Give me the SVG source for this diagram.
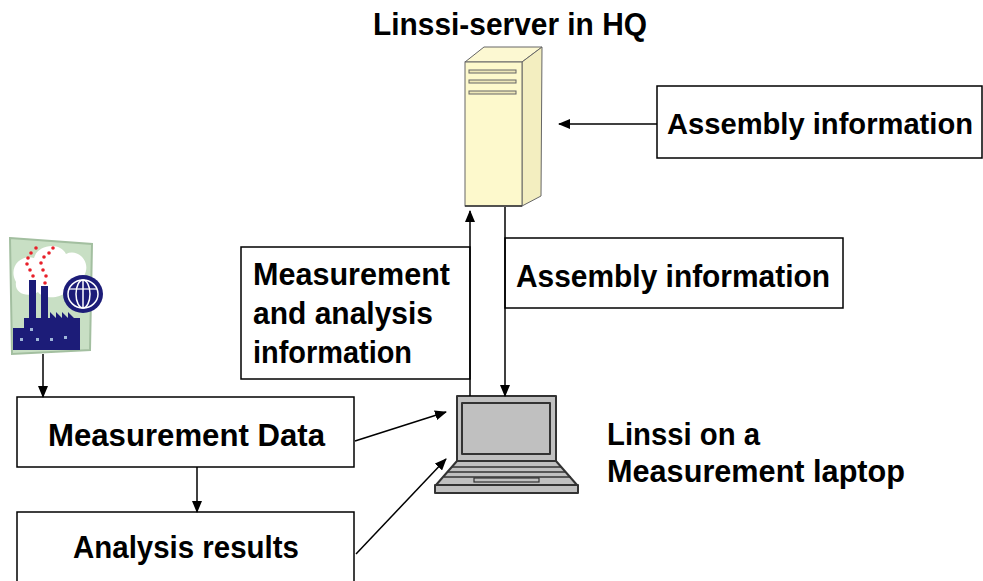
<svg xmlns="http://www.w3.org/2000/svg" width="983" height="581" viewBox="0 0 983 581">
  <style>
    .lbl { font-family: "Liberation Sans", Arial, sans-serif; font-weight: bold; font-size: 31px; fill: #000; }
    .box { fill: #fff; stroke: #000; stroke-width: 1.5; }
    .conn { stroke: #000; stroke-width: 1.5; fill: none; marker-end: url(#arrow); }
    .lap { fill: #c0c0c0; stroke: #333; stroke-width: 2; stroke-linejoin: round; }
    .navy { fill: #1c1c78; }
    .smoke { fill: #e8202a; }
  </style>
  <defs>
    <marker id="arrow" markerUnits="userSpaceOnUse" markerWidth="12" markerHeight="10" refX="11" refY="5" orient="auto">
      <path d="M0,0 L12,5 L0,10 z" fill="#000"/>
    </marker>
  </defs>

  <rect width="983" height="581" fill="#fff"/>

  <!-- server tower -->
  <g id="server">
    <text class="lbl" x="373" y="35" textLength="274" lengthAdjust="spacingAndGlyphs">Linssi-server in HQ</text>
    <polygon points="465,62 484,47 542,47 522,62" fill="#fcf8d2" stroke="#666" stroke-width="1"/>
    <polygon points="522,62 542,47 541,196 522,206" fill="#f3eec0" stroke="#666" stroke-width="1"/>
    <rect x="465" y="62" width="57" height="144" fill="#fdf9cc" stroke="#666" stroke-width="1"/>
    <line x1="465" y1="206" x2="522" y2="206" stroke="#333" stroke-width="1.5"/>
    <rect x="469" y="70" width="47" height="3" fill="#eee8b8" stroke="#666" stroke-width="1"/>
    <rect x="469" y="80" width="47" height="3" fill="#eee8b8" stroke="#666" stroke-width="1"/>
    <rect x="469" y="91" width="47" height="3" fill="#eee8b8" stroke="#666" stroke-width="1"/>
  </g>

  <!-- assembly information into the server -->
  <g id="assembly-hq">
    <rect class="box" x="657" y="86" width="325" height="72"/>
    <text class="lbl" x="667" y="134" style="font-size:29px" textLength="306" lengthAdjust="spacingAndGlyphs">Assembly information</text>
  </g>

  <!-- upload label -->
  <g id="upload-info">
    <rect class="box" x="241" y="247" width="229" height="132"/>
    <text class="lbl" x="253" y="285" textLength="197" lengthAdjust="spacingAndGlyphs">Measurement</text>
    <text class="lbl" x="253" y="324" textLength="180" lengthAdjust="spacingAndGlyphs">and analysis</text>
    <text class="lbl" x="253" y="363" textLength="159" lengthAdjust="spacingAndGlyphs">information</text>
  </g>

  <!-- download label -->
  <g id="assembly-laptop">
    <rect class="box" x="505" y="238" width="338" height="70"/>
    <text class="lbl" x="516" y="287" textLength="314" lengthAdjust="spacingAndGlyphs">Assembly information</text>
  </g>

  <!-- laptop -->
  <g id="laptop">
    <rect class="lap" x="457" y="396" width="99" height="65"/>
    <rect class="lap" x="462" y="403" width="88" height="51"/>
    <polygon class="lap" points="457,461 556,461 577,485 436,485"/>
    <line x1="452" y1="467" x2="561" y2="467" stroke="#333" stroke-width="1.5"/>
    <line x1="448" y1="472" x2="566" y2="472" stroke="#333" stroke-width="1.5"/>
    <line x1="444" y1="477" x2="571" y2="477" stroke="#333" stroke-width="1.5"/>
    <rect x="474" y="478" width="65" height="4" fill="#c0c0c0" stroke="#333" stroke-width="1.2"/>
    <rect class="lap" x="435" y="485" width="143" height="8"/>
    <text class="lbl" x="607" y="445" textLength="153" lengthAdjust="spacingAndGlyphs">Linssi on a</text>
    <text class="lbl" x="607" y="482" textLength="298" lengthAdjust="spacingAndGlyphs">Measurement laptop</text>
  </g>

  <!-- factory / site icon -->
  <g id="factory">
    <polygon points="10,238 92,244 90,350 12,354" fill="#c8dfc4" stroke="#a3bfa0" stroke-width="2"/>
    <path d="M16,282 C8,268 20,254 34,258 C38,244 60,242 66,254 C78,248 92,262 84,276 C90,288 78,298 66,292 C58,300 42,298 38,292 C28,298 14,294 16,282 z" fill="#fff"/>
    <rect class="navy" x="29" y="280" width="7" height="40"/>
    <rect class="navy" x="41" y="286" width="7" height="34"/>
    <polygon class="navy" points="13,328 24,328 24,318 50,318 50,312 56,318 56,312 62,318 62,312 68,318 68,312 74,318 80,318 80,350 13,350"/>
    <g fill="#9fb6d8">
      <rect x="20" y="338" width="3" height="3"/>
      <rect x="36" y="338" width="3" height="3"/>
      <rect x="50" y="338" width="3" height="3"/>
      <rect x="64" y="336" width="3" height="3"/>
      <rect x="30" y="328" width="3" height="3"/>
    </g>
    <g class="smoke">
      <circle cx="33" cy="276" r="1.8"/>
      <circle cx="30" cy="270" r="1.8"/>
      <circle cx="27" cy="264" r="1.8"/>
      <circle cx="28" cy="258" r="1.8"/>
      <circle cx="31" cy="253" r="1.8"/>
      <circle cx="36" cy="248" r="1.8"/>
      <circle cx="45" cy="283" r="1.8"/>
      <circle cx="46" cy="276" r="1.8"/>
      <circle cx="43" cy="270" r="1.8"/>
      <circle cx="41" cy="263" r="1.8"/>
      <circle cx="44" cy="257" r="1.8"/>
      <circle cx="49" cy="253" r="1.8"/>
      <circle cx="53" cy="248" r="1.8"/>
    </g>
    <g id="globe">
      <ellipse class="navy" cx="83" cy="294" rx="20" ry="19"/>
      <ellipse cx="83" cy="294" rx="15" ry="14" fill="none" stroke="#fff" stroke-width="1.5"/>
      <ellipse cx="83" cy="294" rx="7" ry="14" fill="none" stroke="#fff" stroke-width="1.5"/>
      <line x1="83" y1="280" x2="83" y2="308" stroke="#fff" stroke-width="1.5"/>
      <line x1="69" y1="289" x2="97" y2="289" stroke="#fff" stroke-width="1.2"/>
    </g>
  </g>

  <g id="measurement-data">
    <rect class="box" x="17" y="397" width="337" height="70"/>
    <text class="lbl" x="48" y="446" textLength="277" lengthAdjust="spacingAndGlyphs">Measurement Data</text>
  </g>

  <g id="analysis-results">
    <rect class="box" x="17" y="512" width="337" height="80"/>
    <text class="lbl" x="73" y="558" textLength="226" lengthAdjust="spacingAndGlyphs">Analysis results</text>
  </g>

  <!-- connectors -->
  <g id="connectors">
    <line class="conn" x1="657" y1="124" x2="559" y2="124"/>
    <line class="conn" x1="470" y1="396" x2="470" y2="211"/>
    <line class="conn" x1="505" y1="207" x2="505" y2="396"/>
    <line class="conn" x1="43" y1="354" x2="43" y2="397"/>
    <line class="conn" x1="197" y1="467" x2="197" y2="512"/>
    <line class="conn" x1="355" y1="441" x2="446" y2="412"/>
    <line class="conn" x1="356" y1="554" x2="446" y2="459"/>
  </g>
</svg>
